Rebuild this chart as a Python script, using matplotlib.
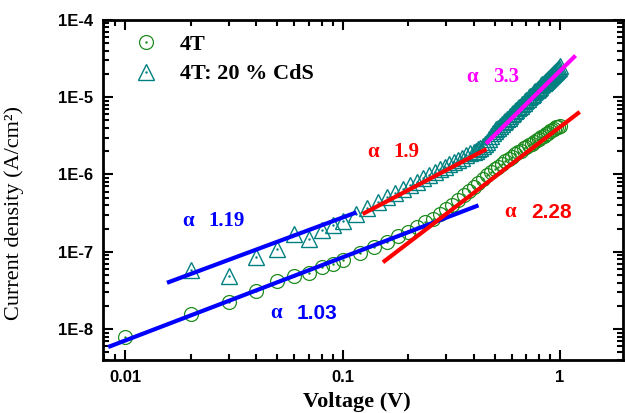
import numpy as np
import matplotlib
matplotlib.use('Agg')
import matplotlib.pyplot as plt
from matplotlib.ticker import FuncFormatter, LogLocator, NullFormatter

# 4T film (circles)
v_4t = np.concatenate([[0.01, 0.02, 0.03, 0.04, 0.05, 0.06, 0.07, 0.08, 0.09],
                       np.round(np.arange(0.10, 1.0001, 0.02), 3)])
j_4t = [7.9e-9, 1.55e-8, 2.24e-8, 3.1e-8, 4.2e-8, 4.85e-8, 5.3e-8, 6.3e-8, 7.0e-8,
        7.76e-8, 9.55e-8, 1.15e-7, 1.35e-7, 1.58e-7, 1.82e-7, 2.09e-7, 2.40e-7, 2.69e-7, 3.09e-7,
        3.55e-7, 4.07e-7, 4.68e-7, 5.37e-7, 6.17e-7, 6.92e-7, 7.76e-7, 8.71e-7, 9.77e-7, 1.07e-6,
        1.17e-6, 1.26e-6, 1.38e-6, 1.48e-6, 1.58e-6, 1.70e-6, 1.82e-6, 1.95e-6, 2.04e-6, 2.19e-6,
        2.29e-6, 2.40e-6, 2.51e-6, 2.63e-6, 2.75e-6, 2.88e-6, 3.02e-6, 3.16e-6, 3.31e-6, 3.47e-6,
        3.63e-6, 3.80e-6, 3.89e-6, 4.07e-6, 4.17e-6, 4.27e-6]

# 4T: 20 % CdS (triangles)
v_cds = np.concatenate([[0.02, 0.03, 0.04, 0.05, 0.06, 0.07, 0.08, 0.09],
                        np.round(np.arange(0.10, 0.4001, 0.015), 3),
                        np.round(np.arange(0.41, 1.0001, 0.01), 3)])
j_cds = [5.8e-8, 4.85e-8, 8.5e-8, 1.08e-7, 1.7e-7, 1.46e-7, 1.9e-7, 2.2e-7,
         # 0.100 - 0.400
         2.52e-7, 3.10e-7, 3.72e-7, 4.38e-7, 5.06e-7, 5.78e-7, 6.53e-7, 7.31e-7, 8.11e-7, 8.95e-7,
         9.80e-7, 1.07e-6, 1.16e-6, 1.25e-6, 1.35e-6, 1.45e-6, 1.55e-6, 1.65e-6, 1.76e-6, 1.88e-6,
         1.98e-6,
         # 0.41 - 1.00
         2.04e-6, 2.12e-6, 2.22e-6, 2.34e-6, 2.48e-6, 2.66e-6, 2.90e-6, 3.12e-6, 3.42e-6, 3.62e-6,
         3.82e-6, 4.03e-6, 4.25e-6, 4.48e-6, 4.71e-6, 4.95e-6, 5.20e-6, 5.45e-6, 5.72e-6, 5.99e-6,
         6.26e-6, 6.55e-6, 6.85e-6, 7.16e-6, 7.46e-6, 7.79e-6, 8.12e-6, 8.46e-6, 8.80e-6, 9.16e-6,
         9.53e-6, 9.90e-6, 1.03e-5, 1.07e-5, 1.11e-5, 1.15e-5, 1.19e-5, 1.23e-5, 1.28e-5, 1.32e-5,
         1.37e-5, 1.42e-5, 1.47e-5, 1.52e-5, 1.57e-5, 1.62e-5, 1.67e-5, 1.72e-5, 1.78e-5, 1.83e-5,
         1.89e-5, 1.95e-5, 2.01e-5, 2.07e-5, 2.13e-5, 2.19e-5, 2.25e-5, 2.32e-5, 2.38e-5, 2.50e-5]

# fitted slopes: voltages, current densities of the end points
fit_103 = ([0.00853, 0.413], [6.0e-9, 3.9e-7])
fit_119 = ([0.0159, 0.1135], [4.06e-8, 3.17e-7])
fit_19 = ([0.126, 0.45], [3.17e-7, 2.07e-6])
fit_33 = ([0.464, 1.16], [2.62e-6, 3.3e-5])
fit_228 = ([0.156, 1.21], [7.6e-8, 6.2e-6])

green = '#1e8c1e'
teal = '#008080'
serif = 'Liberation Serif'
sans = 'Liberation Sans'

fig = plt.figure(figsize=(6.25, 4.13), dpi=100)
ax = fig.add_axes([0.165, 0.128, 0.832, 0.824])

h1, = ax.plot(v_4t, j_4t, 'o', mfc='none', mec=green, ms=10, mew=0.9, ls='none')
d1, = ax.plot(v_4t, j_4t, '.', color=green, ms=1.5, ls='none')
h2, = ax.plot(v_cds, j_cds, '^', mfc='none', mec=teal, ms=11, mew=1.0, ls='none')
d2, = ax.plot(v_cds, j_cds, '.', color=teal, ms=1.5, ls='none')

ax.plot(*fit_103, color='#0000ff', lw=3)
ax.plot(*fit_119, color='#0000ff', lw=3)
ax.plot(*fit_19, color='#ff0000', lw=3)
ax.plot(*fit_33, color='#ff00ff', lw=3)
ax.plot(*fit_228, color='#ff0000', lw=3)

# slope labels
labels = [(0.0183, 2.5e-7, '1.19', '#0000ff', serif),
          (0.0464, 1.6e-8, '1.03', '#0000ff', sans),
          (0.130, 1.95e-6, '1.9', '#ff0000', serif),
          (0.371, 1.82e-5, '3.3', '#ff00ff', serif),
          (0.556, 3.27e-7, '2.28', '#ff0000', sans)]
for x, y, s, c, fam in labels:
    ax.text(x, y, '\u03b1', color=c, family=serif, fontweight='bold', fontsize=15,
            va='center', ha='left')
    ax.annotate(s, xy=(x, y), xytext=(19, 0), textcoords='offset points', color=c,
                family=fam, fontweight='bold', fontsize=15, va='center', ha='left')

ax.set_xscale('log')
ax.set_yscale('log')
ax.set_xlim(0.00792, 1.95)
ax.set_ylim(3.97e-9, 1e-4)

ax.set_xticks([0.01, 0.1, 1])
ax.set_xticklabels(['0.01', '0.1', '1'])
ax.set_yticks([1e-8, 1e-7, 1e-6, 1e-5, 1e-4])
ax.yaxis.set_major_formatter(FuncFormatter(lambda v, p: '1E%d' % round(np.log10(v))))
ax.xaxis.set_minor_locator(LogLocator(base=10, subs=np.arange(2, 10)))
ax.yaxis.set_minor_locator(LogLocator(base=10, subs=np.arange(2, 10)))
ax.xaxis.set_minor_formatter(NullFormatter())
ax.yaxis.set_minor_formatter(NullFormatter())

ax.tick_params(which='both', direction='in', top=True, right=True, width=1.5)
ax.tick_params(which='major', length=7, pad=7)
ax.tick_params(which='minor', length=4)
for lab in ax.get_xticklabels() + ax.get_yticklabels():
    lab.set_family(sans)
    lab.set_fontweight('bold')
    lab.set_fontsize(12)
for sp in ax.spines.values():
    sp.set_linewidth(2)

ax.set_xlabel('Voltage (V)', family=serif, fontweight='bold', fontsize=16)
ax.xaxis.set_label_coords(0.488, -0.094)
ax.set_ylabel('Current density (A/cm\u00b2)', family=serif, fontsize=16)
ax.yaxis.set_label_coords(-0.152, 0.432)

ax.legend([(h1, d1), (h2, d2)], ['4T', '4T: 20 % CdS'], loc='upper left',
          bbox_to_anchor=(0.058, 0.957), frameon=False, borderpad=0, borderaxespad=0,
          handlelength=1.1, handletextpad=1.0, labelspacing=0.4,
          prop={'family': serif, 'weight': 'bold', 'size': 16})

fig.savefig('out.png', dpi=100)
